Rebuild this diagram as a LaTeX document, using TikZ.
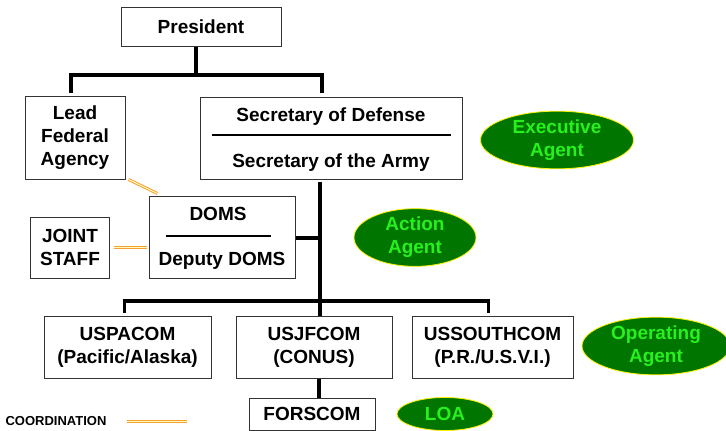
\documentclass[tikz,border=0pt]{standalone}
\usepackage{fontspec}
\setmainfont{Liberation Sans}
\usetikzlibrary{shapes.geometric}
\definecolor{agentfill}{RGB}{0,118,0}
\definecolor{agenttext}{RGB}{40,240,30}
\definecolor{coordline}{RGB}{245,160,50}
\newcommand\orgfont{\bfseries\fontsize{19}{23}\selectfont}
\tikzset{
    orgbox/.style={draw=black!80, line width=1pt, fill=white, inner sep=0pt, align=center, font=\orgfont},
    orgtext/.style={inner sep=0pt, font=\orgfont},
    agent/.style={ellipse, draw=yellow, line width=0.8pt, fill=agentfill, text=agenttext, inner sep=0pt, align=center, font=\orgfont},
    link/.style={line width=3.5pt},
    coordlink/.style={draw=coordline, double=yellow!25, double distance=1pt, line width=1pt}
}
\begin{document}
\begin{tikzpicture}[x=1pt, y=-1pt]
                    \useasboundingbox (0,0) rectangle (726,431);
                    \node[orgbox, minimum width=160, minimum height=39] (pres) at (201,26.5) {President};
                    \node[orgbox, minimum width=100, minimum height=83] (lfa) at (75,137.5) {Lead\\Federal\\Agency};
                    \node[orgbox, minimum width=262, minimum height=82] (secdef) at (331,138) {};
                    \node[orgtext] (secdefA) at (331,117) {Secretary of Defense};
                    \node[orgtext] (secdefB) at (331,163) {Secretary of the Army};
                    \node[orgbox, minimum width=146, minimum height=82] (doms) at (222,237) {};
                    \node[orgtext] (domsA) at (218,214) {DOMS};
                    \node[orgtext] (domsB) at (222,261) {Deputy DOMS};
                    \node[orgbox, minimum width=79, minimum height=61] (joint) at (70,247.5) {JOINT\\STAFF};
                    \node[orgbox, minimum width=167, minimum height=62] (uspacom) at (127.5,347) {USPACOM\\(Pacific/Alaska)};
                    \node[orgbox, minimum width=156, minimum height=62] (usjfcom) at (314,347) {USJFCOM\\(CONUS)};
                    \node[orgbox, minimum width=161, minimum height=62] (ussouth) at (492.5,347) {USSOUTHCOM\\(P.R./U.S.V.I.)};
                    \node[orgbox, minimum width=126, minimum height=32] (forscom) at (312,414) {FORSCOM};
                    \node[agent, minimum width=153, minimum height=56] (exec) at (557,140) {Executive\\Agent};
                    \node[agent, minimum width=122, minimum height=53] (action) at (415,237.5) {Action\\Agent};
                    \node[agent, minimum width=148, minimum height=56] (oper) at (656,346) {Operating\\Agent};
                    \node[agent, minimum width=96, minimum height=33] (loa) at (445,414) {LOA};
                    \node[inner sep=0pt, font=\bfseries\fontsize{13}{15}\selectfont] (legend) at (56,421) {COORDINATION};
                    \coordinate (topbus) at (196,75);
                    \coordinate (spine) at (320,301);
                    \coordinate (legendend) at (187,421);
                    \draw[line width=1.5pt] ([xshift=12,yshift=3]secdef.west) -- ([xshift=-12,yshift=3]secdef.east);
                    \draw[line width=1.5pt] ([xshift=17,yshift=1]doms.west) -- ([xshift=-25,yshift=1]doms.east);
                    \draw[link] (pres.south -| topbus) -- (topbus);
                    \draw[link] ([xshift=-4,yshift=3]lfa.north) |- (topbus) -| ([xshift=-9,yshift=4]secdef.north);
                    \draw[link] ([yshift=-2]secdef.south -| spine) -- (usjfcom.north -| spine);
                    \draw[link] ([yshift=-1]doms.east) -- ([yshift=-1]doms.east -| spine);
                    \draw[link] ([xshift=-3,yshift=3]uspacom.north) |- (spine) -| ([xshift=-4,yshift=3]ussouth.north);
                    \draw[link] ([xshift=5]usjfcom.south) -- ([xshift=7]forscom.north);
                    \draw[coordlink] ([xshift=4]joint.east) -- ([xshift=-2]joint.east -| doms.west);
                    \draw[coordlink] ([xshift=3]lfa.south east) -- ([xshift=9,yshift=2]doms.north west);
                    \draw[coordlink] ([xshift=20]legend.east) -- (legendend);
                \end{tikzpicture}
\end{document}
